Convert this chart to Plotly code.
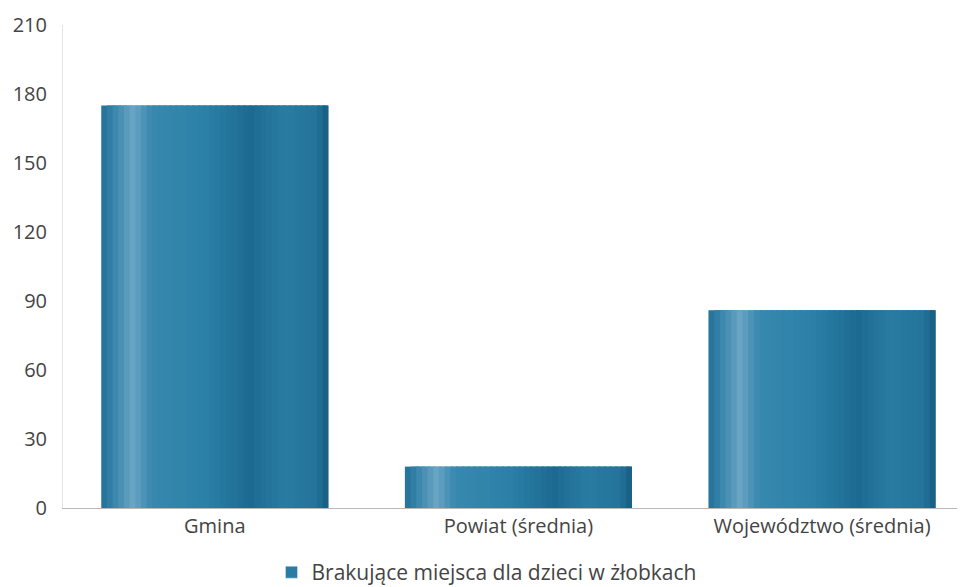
import plotly.graph_objects as go

categories = ["Gmina", "Powiat (średnia)", "Województwo (średnia)"]
values = [175, 18, 86]
series_name = "Brakujące miejsca dla dzieci w żłobkach"
y_ticks = [0, 30, 60, 90, 120, 150, 180, 210]

# cylinder-like shading profile (style only)
stops = [
    (0.00, (0x22, 0x6f, 0x97)),
    (0.06, (0x3a, 0x87, 0xad)),
    (0.14, (0x6a, 0xa5, 0xc5)),
    (0.22, (0x38, 0x88, 0xae)),
    (0.45, (0x2c, 0x81, 0xa8)),
    (0.66, (0x1c, 0x6a, 0x92)),
    (0.80, (0x2a, 0x7c, 0xa3)),
    (0.95, (0x23, 0x73, 0x9a)),
    (1.00, (0x18, 0x5b, 0x80)),
]

def shade(t):
    for (t0, c0), (t1, c1) in zip(stops[:-1], stops[1:]):
        if t0 <= t <= t1:
            f = (t - t0) / (t1 - t0) if t1 > t0 else 0
            c = [round(a + (b - a) * f) for a, b in zip(c0, c1)]
            return "rgb(%d,%d,%d)" % tuple(c)
    return "rgb(%d,%d,%d)" % stops[-1][1]

bar_w = 0.748
n_strips = 40
sw = bar_w / n_strips

fig = go.Figure()
for i in range(n_strips):
    t = (i + 0.5) / n_strips
    w = sw if i == n_strips - 1 else sw * 2.5
    w = min(w, bar_w - i * sw)
    fig.add_trace(go.Bar(
        x=categories, y=values,
        width=[w] * len(categories),
        offset=-bar_w / 2 + i * sw,
        marker=dict(color=shade(t), line=dict(width=0)),
        showlegend=False, hoverinfo="skip",
    ))

# legend entry
fig.add_trace(go.Bar(
    x=categories, y=[None] * len(categories), name=series_name,
    marker=dict(color="#2a7ca3"), showlegend=True,
))

fig.update_layout(
    width=957, height=579,
    margin=dict(l=55, r=0, t=17, b=79, autoexpand=False),
    paper_bgcolor="white", plot_bgcolor="white",
    barmode="overlay",
    font=dict(family="Open Sans, sans-serif", color="#444"),
    xaxis=dict(
        range=[-0.5, 2.471], showgrid=False, showline=True,
        linecolor="#b8b8b8", linewidth=1, ticks="", automargin=False,
        tickfont=dict(size=20, color="#444"), zeroline=False,
    ),
    yaxis=dict(
        range=[0, 210], tickvals=y_ticks, showgrid=False, automargin=False,
        showline=True, linecolor="#e4e4e4", linewidth=1,
        zeroline=False, ticks="", ticklabelstandoff=11,
        tickfont=dict(size=20, color="#444"),
    ),
    legend=dict(
        orientation="h", xref="container", yref="container",
        x=0.5, xanchor="center", y=0.025, yanchor="middle",
        font=dict(size=21, color="#444"),
    ),
)

fig.write_html("out.html")
